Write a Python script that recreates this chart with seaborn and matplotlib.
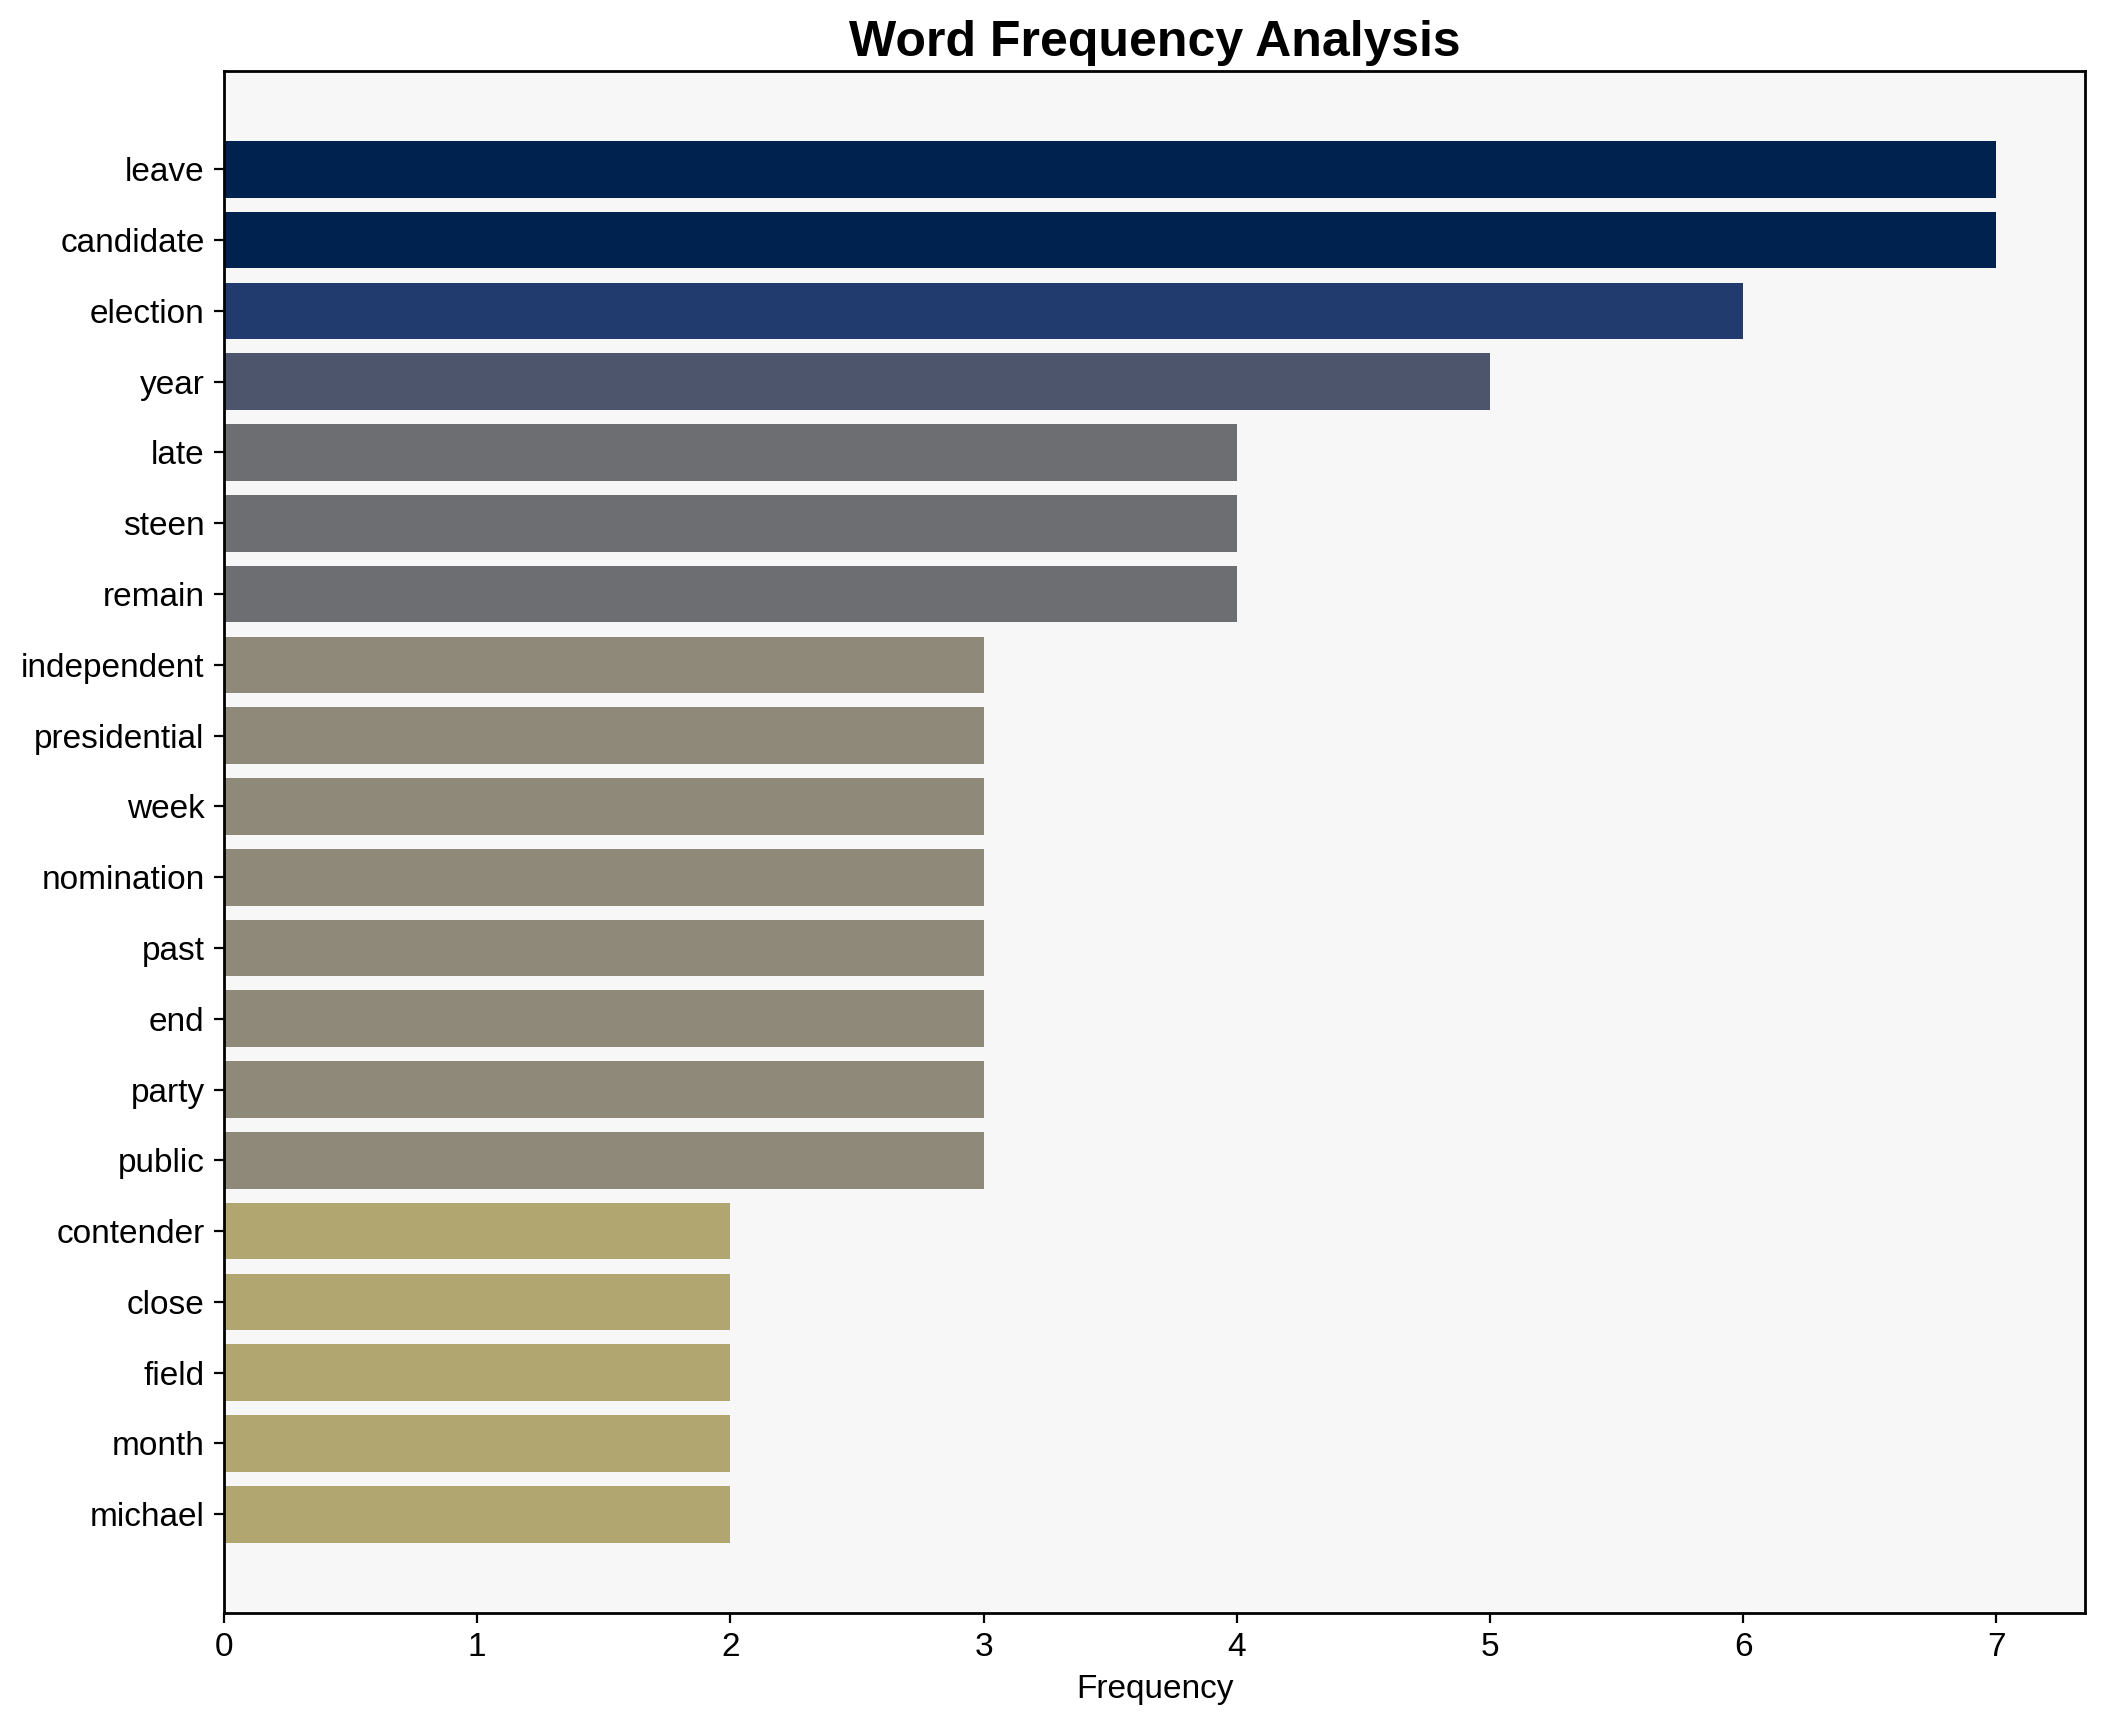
import matplotlib
matplotlib.use("Agg")
import matplotlib.pyplot as plt
import seaborn as sns
import numpy as np
import pandas as pd

words = ["leave", "candidate", "election", "year", "late", "steen", "remain",
         "independent", "presidential", "week", "nomination", "past", "end",
         "party", "public", "contender", "close", "field", "month", "michael"]
freqs = [7, 7, 6, 5, 4, 4, 4, 3, 3, 3, 3, 3, 3, 3, 3, 2, 2, 2, 2, 2]

sns.set_style("ticks")
plt.rcParams['font.family'] = ['Liberation Sans', 'Arial', 'DejaVu Sans']
plt.rcParams['axes.edgecolor'] = 'black'
plt.rcParams['axes.linewidth'] = 1.0
plt.rcParams['text.color'] = 'black'
plt.rcParams['axes.labelcolor'] = 'black'
plt.rcParams['xtick.color'] = 'black'
plt.rcParams['ytick.color'] = 'black'

df = pd.DataFrame({"word": words, "freq": freqs})
cmap = plt.get_cmap("cividis")
vmax = max(freqs)
palette = {w: cmap(1 - f / vmax) for w, f in zip(words, freqs)}

fig = plt.figure(figsize=(2103 / 200, 1722 / 200), dpi=200)
ax = fig.add_axes([0.1065, 0.0635, 0.885, 0.8953])
sns.barplot(data=df, x="freq", y="word", hue="word", palette=palette,
            legend=False, orient="h", width=0.8, saturation=1,
            linewidth=0, edgecolor="none", ax=ax)

n = len(words)
ax.set_facecolor("#f7f7f7")
ax.set_xlim(0, vmax * 1.05)
span = (n - 1) + 0.8
ax.set_ylim(n - 1 + 0.4 + 0.05 * span, -0.4 - 0.05 * span)
ax.set_xticks(range(0, 8))
ax.tick_params(axis="both", labelsize=12, length=3.5, width=0.8, colors="black")
ax.set_xlabel("Frequency", fontsize=12, color="black")
ax.set_ylabel("")
ax.set_title("Word Frequency Analysis", fontsize=18, fontweight="bold",
             pad=5.5, color="black")
for s in ax.spines.values():
    s.set_visible(True)
    s.set_color("black")

fig.savefig("out.png", dpi=200)
